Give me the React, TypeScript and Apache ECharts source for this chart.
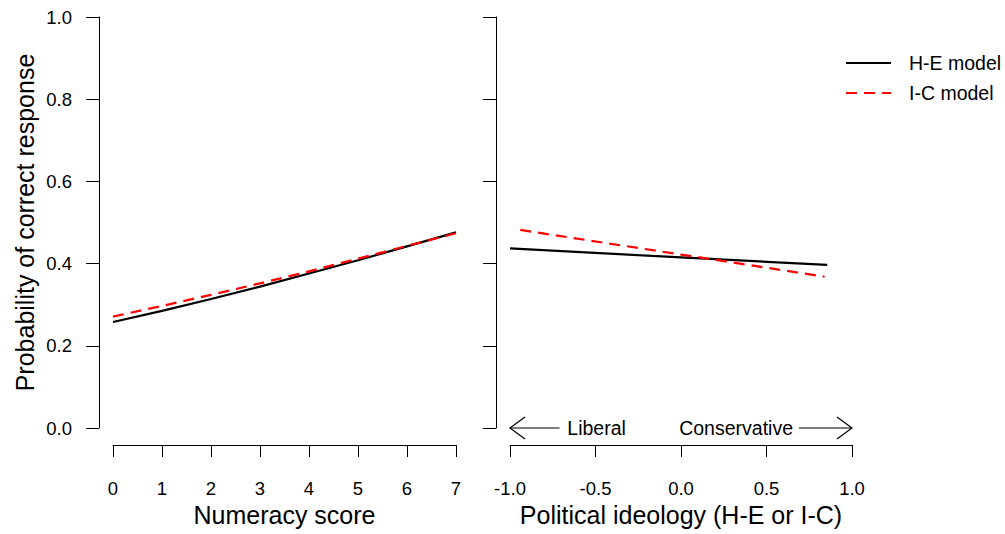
import React, { useEffect, useRef } from "react";
import * as echarts from "echarts";

// ---- data ----
const numeracyX = [0, 1, 2, 3, 4, 5, 6, 7];
const heNumeracy = [0.258, 0.285, 0.314, 0.344, 0.376, 0.408, 0.442, 0.476];
const icNumeracy = [0.271, 0.297, 0.324, 0.352, 0.381, 0.412, 0.443, 0.474];

const heIdeologyX = [-1.0, 0.0, 0.855];
const heIdeology = [0.437, 0.415, 0.397];
const icIdeologyX = [-0.94, 0.0, 0.84];
const icIdeology = [0.482, 0.422, 0.368];

const yTicks = [0, 0.2, 0.4, 0.6, 0.8, 1.0];
const numeracyTicks = [0, 1, 2, 3, 4, 5, 6, 7];
const ideologyTicks = [-1.0, -0.5, 0.0, 0.5, 1.0];

const seriesNames = ["H-E model", "I-C model"];
const arrowLabels = ["Liberal", "Conservative"];
const xTitles = ["Numeracy score", "Political ideology (H-E or I-C)"];
const yTitle = "Probability of correct response";

const FONT = "'Liberation Sans', Arial, Helvetica, sans-serif";
const RED = "#ff0000";

export default function App() {
  const ref = useRef<HTMLDivElement>(null);

  useEffect(() => {
    if (!ref.current) return;
    const chart = echarts.init(ref.current, null, { renderer: "svg" });

    const xAxisBase = (idx: number, min: number, max: number, interval: number, fmt: (v: number) => string) => ({
      type: "value",
      gridIndex: idx,
      min,
      max,
      interval,
      offset: 17,
      position: "bottom",
      name: xTitles[idx],
      nameLocation: "middle",
      nameGap: 54,
      nameTextStyle: { fontSize: 25, color: "#000", fontFamily: FONT },
      axisLine: { show: true, onZero: false, lineStyle: { color: "#000", width: 1 } },
      axisTick: { show: true, length: 12, lineStyle: { color: "#000", width: 1 } },
      splitLine: { show: false },
      axisLabel: { show: true, margin: 34, fontSize: 18.5, color: "#000", fontFamily: FONT, formatter: fmt },
    });

    const yAxisBase = (idx: number, showLabels: boolean) => ({
      type: "value",
      gridIndex: idx,
      min: yTicks[0],
      max: yTicks[yTicks.length - 1],
      interval: 0.2,
      offset: 14,
      position: "left",
      name: idx === 0 ? yTitle : "",
      nameLocation: "middle",
      nameGap: 62,
      nameRotate: 90,
      nameTextStyle: { fontSize: 25, color: "#000", fontFamily: FONT },
      axisLine: { show: true, onZero: false, lineStyle: { color: "#000", width: 1 } },
      axisTick: { show: true, length: 13, lineStyle: { color: "#000", width: 1 } },
      splitLine: { show: false },
      axisLabel: {
        show: showLabels,
        margin: 27,
        fontSize: 18.5,
        color: "#000",
        fontFamily: FONT,
        formatter: (v: number) => v.toFixed(1),
      },
    });

    const option: any = {
      animation: false,
      backgroundColor: "#fff",
      textStyle: { fontFamily: FONT },
      grid: [
        { left: 113, width: 343, top: 17, height: 411, containLabel: false },
        { left: 510, width: 342, top: 17, height: 411, containLabel: false },
      ],
      legend: {
        orient: "vertical",
        left: 840,
        top: 48,
        itemWidth: 45,
        itemHeight: 20,
        itemGap: 10,
        itemStyle: { opacity: 0 },
        textStyle: { fontSize: 19.5, lineHeight: 20, color: "#000", fontFamily: FONT, padding: [0, 0, 0, 13] },
        data: seriesNames,
      },
      xAxis: [
        xAxisBase(0, numeracyTicks[0], numeracyTicks[numeracyTicks.length - 1], 1, (v: number) => String(v)),
        xAxisBase(1, ideologyTicks[0], ideologyTicks[ideologyTicks.length - 1], 0.5, (v: number) => v.toFixed(1)),
      ],
      yAxis: [yAxisBase(0, true), yAxisBase(1, false)],
      series: [
        {
          name: seriesNames[0],
          type: "line",
          xAxisIndex: 0,
          yAxisIndex: 0,
          symbol: "none",
          smooth: false,
          lineStyle: { color: "#000", width: 2.2, type: "solid" },
          itemStyle: { color: "#000" },
          data: numeracyX.map((x, i) => [x, heNumeracy[i]]),
        },
        {
          name: seriesNames[1],
          type: "line",
          xAxisIndex: 0,
          yAxisIndex: 0,
          symbol: "none",
          smooth: false,
          lineStyle: { color: RED, width: 2.2, type: [11, 7] },
          itemStyle: { color: RED },
          data: numeracyX.map((x, i) => [x, icNumeracy[i]]),
        },
        {
          name: seriesNames[0],
          type: "line",
          xAxisIndex: 1,
          yAxisIndex: 1,
          symbol: "none",
          lineStyle: { color: "#000", width: 2.2, type: "solid" },
          itemStyle: { color: "#000" },
          data: heIdeologyX.map((x, i) => [x, heIdeology[i]]),
        },
        {
          name: seriesNames[1],
          type: "line",
          xAxisIndex: 1,
          yAxisIndex: 1,
          symbol: "none",
          lineStyle: { color: RED, width: 2.2, type: [11, 7] },
          itemStyle: { color: RED },
          data: icIdeologyX.map((x, i) => [x, icIdeology[i]]),
        },
      ],
    };

    chart.setOption(option);

    // arrows with labels along the ideology axis (drawn at y = 0 of right panel)
    const px = (x: number, y: number) => chart.convertToPixel({ xAxisIndex: 1, yAxisIndex: 1 }, [x, y]) as number[];
    const leftTip = px(-1.0, 0);
    const leftEnd = px(-0.71, 0);
    const rightTip = px(1.0, 0);
    const rightEnd = px(0.69, 0);
    const libPos = px(-0.665, 0);
    const conPos = px(0.655, 0);
    const ah = 15;
    const aw = 11;
    const lineStyle = { stroke: "#000", lineWidth: 1.2, fill: "none" };
    chart.setOption({
      graphic: [
        { type: "line", shape: { x1: leftTip[0], y1: leftTip[1], x2: leftEnd[0], y2: leftEnd[1] }, style: lineStyle },
        {
          type: "polyline",
          shape: { points: [[leftTip[0] + ah, leftTip[1] - aw], [leftTip[0], leftTip[1]], [leftTip[0] + ah, leftTip[1] + aw]] },
          style: lineStyle,
        },
        { type: "line", shape: { x1: rightEnd[0], y1: rightEnd[1], x2: rightTip[0], y2: rightTip[1] }, style: lineStyle },
        {
          type: "polyline",
          shape: { points: [[rightTip[0] - ah, rightTip[1] - aw], [rightTip[0], rightTip[1]], [rightTip[0] - ah, rightTip[1] + aw]] },
          style: lineStyle,
        },
        {
          type: "text",
          x: libPos[0],
          y: libPos[1],
          style: { text: arrowLabels[0], fontSize: 19.5, fontFamily: FONT, fill: "#000", align: "left", verticalAlign: "middle" },
        },
        {
          type: "text",
          x: conPos[0],
          y: conPos[1],
          style: { text: arrowLabels[1], fontSize: 19.5, fontFamily: FONT, fill: "#000", align: "right", verticalAlign: "middle" },
        },
      ],
    });

    return () => chart.dispose();
  }, []);

  return <div ref={ref} style={{ position: "fixed", left: 0, top: 0, width: 1005, height: 534, background: "#fff" }} />;
}
